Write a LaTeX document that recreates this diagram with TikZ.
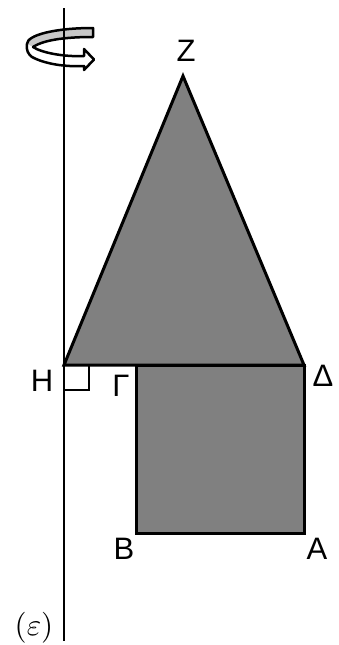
\documentclass[tikz,border=0pt]{standalone}
\usepackage{fontspec}
\setmainfont{Liberation Sans}
\begin{document}
\begin{tikzpicture}[x=1pt,y=-1pt,
  edge/.style={line width=3pt, line join=miter},
  solid shape/.style={edge, fill=shapegray},
  lbl/.style={inner sep=0pt, font=\fontsize{31}{31}\selectfont},
  axisline/.style={line width=2.5pt},
  ribbon/.style={line width=2.5pt, line join=round}]
\definecolor{shapegray}{RGB}{128,128,128}
\definecolor{ribbongray}{RGB}{200,200,200}
\useasboundingbox (0,0) rectangle (339,645);
% vertices
\coordinate (Z) at (183,76);
\coordinate (H) at (64,365);
\coordinate (D) at (304,365);
\coordinate (G) at (136,365);
\coordinate (A) at (304,533);
\coordinate (B) at (136,533);
\coordinate (axtop) at (64,8);
\coordinate (axbot) at (64,641);
% solids
\draw[solid shape] (H) -- (Z) -- (D) -- cycle;
\draw[solid shape] (G) -- (D) -- (A) -- (B) -- cycle;
% right angle
\draw[line width=2pt] (64,390) -| (89,365);
% rotation ribbon
\fill[ribbongray] (93,28) .. controls (55,28) and (27,35) .. (27,44) -- (33,47) .. controls (45,39) and (70,37) .. (93,37) -- cycle;
\fill[white] (27,44) .. controls (26,50) and (28,54) .. (32,57) .. controls (45,64) and (65,67) .. (84,66) -- (84,70) -- (94,59.5) -- (84,49) -- (84,56) .. controls (65,57) and (42,53) .. (33,47) -- cycle;
\draw[axisline] (axtop) -- (axbot);
\draw[ribbon] (93,28) .. controls (55,28) and (27,35) .. (27,44) .. controls (26,50) and (28,54) .. (32,57) .. controls (45,64) and (65,67) .. (84,66) -- (84,70) -- (94,59.5) -- (84,49) -- (84,56) .. controls (65,57) and (42,53) .. (33,47) .. controls (45,39) and (70,37) .. (93,37) -- cycle;
% labels
\node[lbl] (lZ) at (186,51) {Z};
\node[lbl] (lH) at (42,381) {H};
\node[lbl] (lG) at (121,386) {Γ};
\node[lbl] (lD) at (323,376) {Δ};
\node[lbl] (lB) at (124,549) {B};
\node[lbl] (lA) at (317,549) {A};
\node[inner sep=0pt, scale=3.1] (leps) at (34,628) {$(\varepsilon)$};
\end{tikzpicture}
\end{document}
